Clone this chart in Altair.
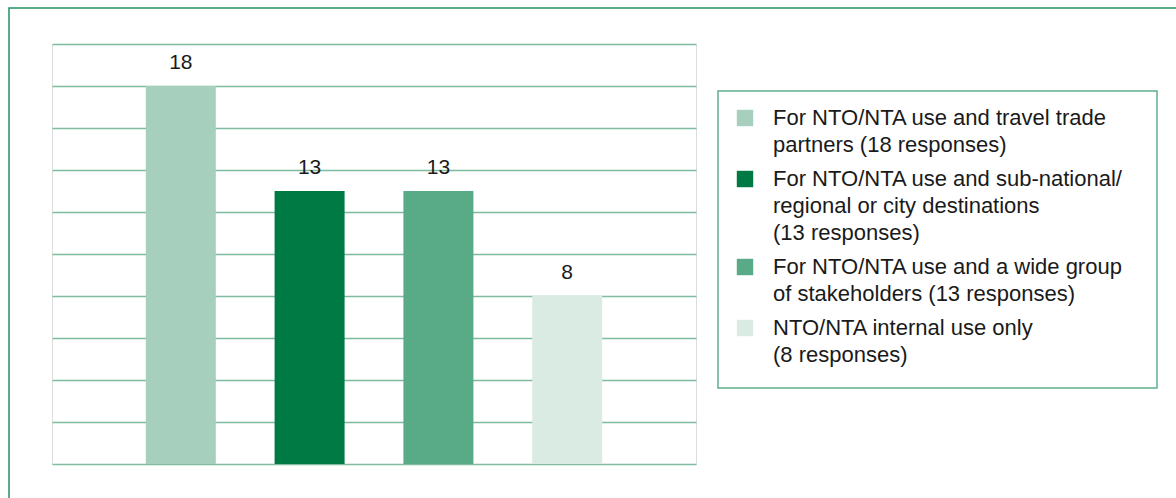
import altair as alt
import pandas as pd

# Survey answers: who the NTO/NTA data is shared with
categories = [
    "For NTO/NTA use and travel trade partners (18 responses)",
    "For NTO/NTA use and sub-national/regional or city destinations (13 responses)",
    "For NTO/NTA use and a wide group of stakeholders (13 responses)",
    "NTO/NTA internal use only (8 responses)",
]
legend_lines = [
    "For NTO/NTA use and travel trade|partners (18 responses)",
    "For NTO/NTA use and sub-national/|regional or city destinations|(13 responses)",
    "For NTO/NTA use and a wide group|of stakeholders (13 responses)",
    "NTO/NTA internal use only|(8 responses)",
]
positions = [1, 2, 3, 4]
values = [18, 13, 13, 8]
colors = ["#A6D0BD", "#007A44", "#58AB86", "#D9EBE3"]

df = pd.DataFrame({"category": categories, "pos": positions, "value": values})

label_map = {c: l for c, l in zip(categories, legend_lines)}
label_expr = "split(" + " : ".join(
    f"datum.label === '{c}' ? '{label_map[c]}'" for c in categories
) + " : datum.label, '|')"

FONT = "Liberation Sans"
GREEN = "#1F8A58"

x = alt.X("pos:Q", scale=alt.Scale(domain=[0, 5], nice=False, padding=0), axis=None)
y = alt.Y(
    "value:Q",
    scale=alt.Scale(domain=[0, 20], nice=False),
    axis=alt.Axis(
        values=list(range(0, 21, 2)),
        labels=False,
        ticks=False,
        domain=False,
        grid=True,
        gridColor="#7DBC9F",
        gridWidth=1.6,
        title=None,
    ),
)

bars = (
    alt.Chart(df)
    .mark_bar(size=70)
    .encode(
        x=x,
        y=y,
        color=alt.Color(
            "category:N",
            scale=alt.Scale(domain=categories, range=colors),
            legend=alt.Legend(
                title=None,
                orient="none",
                legendX=682,
                legendY=63,
                symbolType="square",
                symbolSize=270,
                symbolStrokeWidth=0,
                labelFont=FONT,
                labelFontSize=22,
                labelColor="#1a1a1a",
                labelLimit=600,
                labelOffset=17,
                rowPadding=12,
                padding=0,
                labelExpr=label_expr,
            ),
        ),
    )
)

labels = (
    alt.Chart(df)
    .mark_text(baseline="alphabetic", dy=-17, font=FONT, fontSize=21, color="#1a1a1a")
    .encode(x=x, y=y, text=alt.Text("value:Q"))
)

frame_df = pd.DataFrame({"frame": [0]})

# outer page frame and legend box
outer = alt.Chart(frame_df).mark_rect(
    fill="transparent", stroke="#1F9462", strokeWidth=1.5
).encode(x=alt.value(-43), x2=alt.value(1300), y=alt.value(-36), y2=alt.value(700))

legend_box = alt.Chart(frame_df).mark_rect(
    fill="transparent", stroke="#5FAE8A", strokeWidth=1.5
).encode(x=alt.value(666), x2=alt.value(1105), y=alt.value(47), y2=alt.value(344))

chart = (
    alt.layer(outer, legend_box, bars, labels)
    .properties(
        width=644,
        height=420,
        autosize=alt.AutoSizeParams(type="none"),
        padding={"left": 52, "top": 44, "right": 480, "bottom": 34},
        background="white",
    )
    .configure_view(stroke=GREEN, strokeWidth=1.8)
    .configure(style={"guide-label": {"lineHeight": 27}})
)

chart.save("out.html", embed_options={"renderer": "svg", "actions": False})
